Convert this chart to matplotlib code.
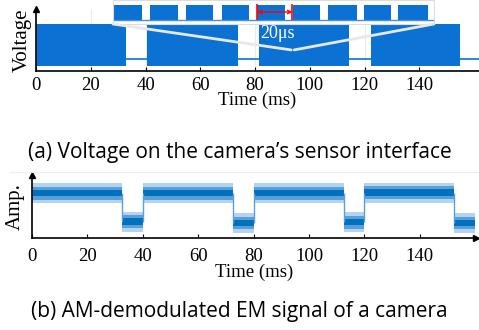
import numpy as np
import matplotlib.pyplot as plt
from matplotlib.patches import ConnectionPatch

# ---- data ----
# (a) voltage bursts on the sensor interface (ms)
a_burst_start = [0.0, 40.6, 81.5, 122.5]
a_burst_end = [32.9, 73.9, 114.4, 155.0]
a_low = 0.08
a_high = 0.76
a_idle = 0.19

# zoomed inset (us): lines of one burst
in_start = [0.6, 20.7, 40.8, 60.9, 80.4, 100.6, 120.1, 140.2, 159.2]
in_end = [16.2, 36.3, 55.9, 76.0, 96.1, 115.6, 136.3, 155.3, 175.4]
in_low = 0.17
in_high = 0.80
in_mark = [80.4, 100.0]

# (b) AM-demodulated EM signal (ms)
b_start = [0, 32.5, 40, 72.5, 80, 112.5, 120, 152.5]
b_end = [32.5, 40, 72.5, 80, 112.5, 120, 152.5, 160]
b_level = [0.71, 0.26, 0.71, 0.24, 0.71, 0.25, 0.72, 0.24]
b_spread = [0.16, 0.10, 0.05]

ticks = [0, 20, 40, 60, 80, 100, 120, 140]
tick_labels = ['0', '20', '40', '60', '80', '100', '120', '140']

blue = '#0b72d4'
sig = '#0072BD'
serif = 'Liberation Serif'
plt.rcParams['font.family'] = 'serif'
plt.rcParams['font.serif'] = [serif]

fig = plt.figure(figsize=(4.79, 3.30), dpi=100)


def style_axes(ax, xmax, pad):
    ax.set_xlim(0, xmax)
    ax.set_ylim(0, 1)
    for s in ['top', 'right']:
        ax.spines[s].set_visible(False)
    for s in ['left', 'bottom']:
        ax.spines[s].set_linewidth(1.2)
    ax.set_yticks([])
    ax.set_xticks(ticks, tick_labels, fontfamily=serif, fontsize=13.5)
    ax.tick_params(axis='x', direction='in', length=3, width=0.8, pad=pad)
    ax.plot(0, 1, marker='^', ms=4, color='k', transform=ax.transAxes, clip_on=False)
    ax.set_xlabel('Time (ms)', fontfamily=serif, fontsize=13.5, labelpad=-1)


# ---- panel (a) ----
ax1 = fig.add_axes([36 / 479, 1 - 71 / 330, 443 / 479, 62 / 330])
style_axes(ax1, 161.8, 4)
ax1.set_ylabel('Voltage', fontfamily=serif, fontsize=15, labelpad=3)
ax1.grid(True, axis='x', color='#ececec', lw=0.8)
ax1.set_axisbelow(True)
ax1.axhline(a_idle, color=blue, lw=1.2)
for s, e in zip(a_burst_start, a_burst_end):
    ax1.fill_between([s, e], a_low, a_high, color=blue, lw=0)

# inset
axin = fig.add_axes([113 / 479, 1 - 24 / 330, 321 / 479, 24 / 330])
axin.set_xlim(0, 179)
axin.set_ylim(0, 1)
axin.set_xticks([])
axin.set_yticks([])
for s in axin.spines.values():
    s.set_color('#dddddd')
    s.set_linewidth(0.8)
axin.axhline(in_low, color='#4a90d9', lw=1)
for s, e in zip(in_start, in_end):
    axin.fill_between([s, e], in_low, in_high, color=blue, lw=0)
axin.annotate('', xy=(in_mark[1], 0.5), xytext=(in_mark[0], 0.5),
              arrowprops=dict(arrowstyle='<->', color='red', lw=1, mutation_scale=6,
                              shrinkA=0, shrinkB=0))
axin.vlines(in_mark, 0.15, 0.85, color='red', lw=1.2)

for xa, xb in [((0, 0), (93.2, 0.34)), ((1, 0), (94.3, 0.34))]:
    con = ConnectionPatch(xyA=xa, coordsA=axin.transAxes, xyB=xb, coordsB=ax1.transData,
                          color='#e8e8e8', lw=2)
    fig.add_artist(con)
ax1.text(81.9, 0.61, '20\u03bcs', color='white', fontfamily=serif, fontsize=13,
         va='center', ha='left')

fig.text(0.5, 1 - 152 / 330, '(a) Voltage on the camera\u2019s sensor interface',
         ha='center', va='center', fontfamily='Open Sans', fontsize=15)

# ---- panel (b) ----
ax2 = fig.add_axes([32 / 479, 1 - 238 / 330, 444 / 479, 63 / 330])
style_axes(ax2, 160.3, 7)
ax2.set_ylabel('Amp.', fontfamily=serif, fontsize=15, labelpad=5)
ax2.plot(1, 0, marker='>', ms=4, color='k', transform=ax2.transAxes, clip_on=False)
shades = ['#b4d3ee', '#5a9fd8', sig]
for s, e, lv in zip(b_start, b_end, b_level):
    for sp, c in zip(b_spread, shades):
        ax2.fill_between([s, e], lv - sp, lv + sp, color=c, lw=0)
for i in range(1, len(b_start)):
    ax2.vlines(b_start[i], min(b_level[i - 1], b_level[i]), max(b_level[i - 1], b_level[i]),
               color='#5a9fd8', lw=1)
fig.add_artist(plt.Line2D([0.02, 1.0], [1 - 172 / 330] * 2, color='#eeeeee', lw=0.8))

fig.text(0.5, 1 - 312 / 330, '(b) AM-demodulated EM signal of a camera',
         ha='center', va='center', fontfamily='Open Sans', fontsize=15)

fig.savefig('out.png', dpi=100)
